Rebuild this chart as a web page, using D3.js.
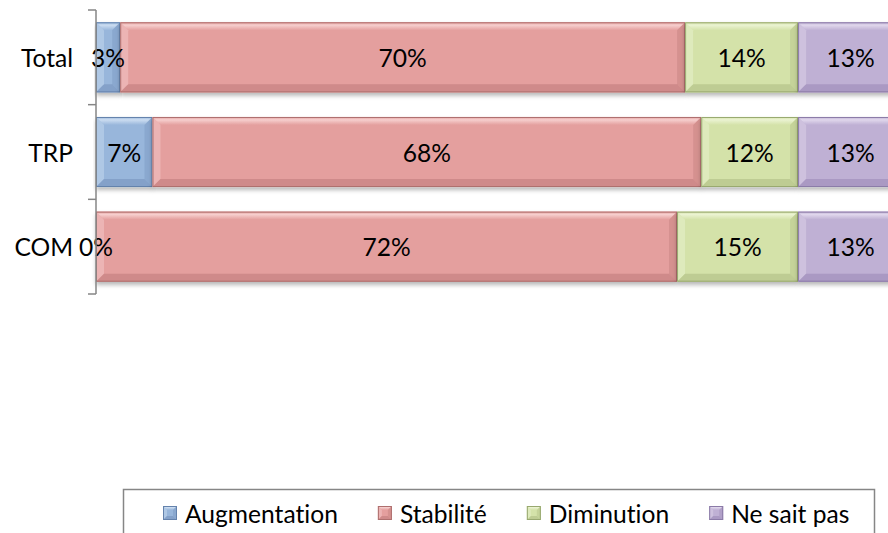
<!DOCTYPE html>
<html>
<head>
<meta charset="utf-8">
<script src="https://cdn.jsdelivr.net/npm/d3@7/dist/d3.min.js"></script>
<style>
  html, body { margin: 0; padding: 0; background: #fff; }
  svg { display: block; }
  text { font-family: Lato, "Open Sans", sans-serif; fill: #000; font-variant-ligatures: none; }
</style>
</head>
<body>
<svg id="chart" width="888" height="533"></svg>
<script>
// Categories (top to bottom) and series, values in percent
const categories = ["Total", "TRP", "COM"];
const seriesNames = ["Augmentation", "Stabilité", "Diminution", "Ne sait pas"];
const augmentation = [3, 7, 0];
const stabilite = [70, 68, 72];
const diminution = [14, 12, 15];
const neSaitPas = [13, 13, 13];

const seriesValues = [augmentation, stabilite, diminution, neSaitPas];

// Bevelled fill palette per series: face, highlight, shade, border
const palette = [
  { face: "#98B6DB", light: "#CCDDF1", shade: "#7F9CC4", border: "#6482AC" },
  { face: "#E49F9E", light: "#F6CFCE", shade: "#C98584", border: "#AE6F6E" },
  { face: "#D4E2A9", light: "#EBF3D2", shade: "#B8C78D", border: "#98A86F" },
  { face: "#BFB0D4", light: "#E0D7EC", shade: "#A594BE", border: "#8B7AA7" }
];

const rows = categories.map((c, i) => {
  const r = { category: c };
  seriesNames.forEach((s, j) => { r[s] = seriesValues[j][i]; });
  return r;
});
const stacked = d3.stack().keys(seriesNames)(rows);

const svg = d3.select("#chart");
const fontSize = 24.6;

const x = d3.scaleLinear().domain([0, 100]).range([96, 903]);
const y = d3.scaleBand().domain(categories).range([10, 294])
  .paddingInner(0.26).paddingOuter(0.13);

// Soft shadow under bars
const defs = svg.append("defs");
const shadow = defs.append("filter").attr("id", "shadow")
  .attr("x", "-5%").attr("y", "-20%").attr("width", "110%").attr("height", "150%");
shadow.append("feDropShadow").attr("dx", 0).attr("dy", 3)
  .attr("stdDeviation", 2).attr("flood-color", "#000").attr("flood-opacity", 0.28);

// Vertical highlight gradients for the top bevel and legend keys
palette.forEach((p, i) => {
  const g = defs.append("linearGradient").attr("id", "top" + i)
    .attr("x1", 0).attr("y1", 0).attr("x2", 0).attr("y2", 1);
  g.append("stop").attr("offset", "0%").attr("stop-color", p.face);
  g.append("stop").attr("offset", "35%").attr("stop-color", p.light);
  g.append("stop").attr("offset", "100%").attr("stop-color", p.face);
  const m = defs.append("linearGradient").attr("id", "mk" + i)
    .attr("x1", 0).attr("y1", 0).attr("x2", 0).attr("y2", 1);
  m.append("stop").attr("offset", "0%").attr("stop-color", p.light);
  m.append("stop").attr("offset", "100%").attr("stop-color", p.shade);
});

// Draws a bevelled rectangle in the given group
function bevelRect(g, x0, y0, w, h, p, i, bevel) {
  const b = Math.min(bevel, w / 2, h / 2);
  g.append("rect").attr("x", x0).attr("y", y0).attr("width", w).attr("height", h)
    .attr("fill", p.face);
  const poly = (pts, fill, op) => g.append("polygon")
    .attr("points", pts.map(q => q.join(",")).join(" "))
    .attr("fill", fill).attr("opacity", op);
  // top
  poly([[x0, y0], [x0 + w, y0], [x0 + w - b, y0 + b], [x0 + b, y0 + b]], `url(#top${i})`, 1);
  // left
  poly([[x0, y0], [x0 + b, y0 + b], [x0 + b, y0 + h - b], [x0, y0 + h]], p.light, 0.45);
  // right
  poly([[x0 + w, y0], [x0 + w, y0 + h], [x0 + w - b, y0 + h - b], [x0 + w - b, y0 + b]], p.shade, 0.55);
  // bottom
  poly([[x0, y0 + h], [x0 + b, y0 + h - b], [x0 + w - b, y0 + h - b], [x0 + w, y0 + h]], p.shade, 0.8);
  g.append("rect").attr("x", x0 + 0.5).attr("y", y0 + 0.5)
    .attr("width", Math.max(0, w - 1)).attr("height", h - 1)
    .attr("fill", "none").attr("stroke", p.border).attr("stroke-width", 1);
}

// Bars
const barsLayer = svg.append("g");
stacked.forEach((layer, i) => {
  const p = palette[i];
  layer.forEach(d => {
    const w = x(d[1]) - x(d[0]);
    if (w <= 0) return;
    const g = barsLayer.append("g").attr("filter", "url(#shadow)");
    bevelRect(g, x(d[0]), y(d.data.category), w, y.bandwidth(), p, i, 8);
  });
});

// Value labels, centred in each segment
const labelLayer = svg.append("g");
stacked.forEach(layer => {
  layer.forEach(d => {
    const v = d[1] - d[0];
    labelLayer.append("text")
      .attr("x", (x(d[0]) + x(d[1])) / 2)
      .attr("y", y(d.data.category) + y.bandwidth() / 2)
      .attr("text-anchor", "middle").attr("dominant-baseline", "central")
      .attr("font-size", fontSize)
      .text(v + "%");
  });
});

// Category axis: line with ticks between categories
const axis = svg.append("g");
const step = y.step();
const axisTop = y(categories[0]) - y.paddingOuter() * step;
axis.append("line").attr("x1", x(0)).attr("x2", x(0))
  .attr("y1", axisTop).attr("y2", axisTop + step * categories.length)
  .attr("stroke", "#868686").attr("stroke-width", 1.5);
d3.range(categories.length + 1).forEach(k => {
  const ty = axisTop + k * step;
  axis.append("line").attr("x1", x(0) - 8).attr("x2", x(0))
    .attr("y1", ty).attr("y2", ty)
    .attr("stroke", "#868686").attr("stroke-width", 1.5);
});
categories.forEach(c => {
  axis.append("text")
    .attr("x", x(0) - 23)
    .attr("y", y(c) + y.bandwidth() / 2)
    .attr("text-anchor", "end").attr("dominant-baseline", "central")
    .attr("font-size", fontSize)
    .text(c);
});

// Legend
const legend = svg.append("g");
legend.append("rect").attr("x", 123.5).attr("y", 489.5)
  .attr("width", 751).attr("height", 60)
  .attr("fill", "#fff").attr("stroke", "#868686").attr("stroke-width", 1.5);
let lx = 163;
const itemGap = 40;
seriesNames.forEach((s, i) => {
  const keyGroup = legend.append("g");
  bevelRect(keyGroup, lx, 506, 14, 14, palette[i], i, 4);
  const t = legend.append("text").attr("x", lx + 22).attr("y", 513)
    .attr("dominant-baseline", "central").attr("font-size", fontSize)
    .text(s);
  lx += 22 + t.node().getComputedTextLength() + itemGap;
});
</script>
</body>
</html>
